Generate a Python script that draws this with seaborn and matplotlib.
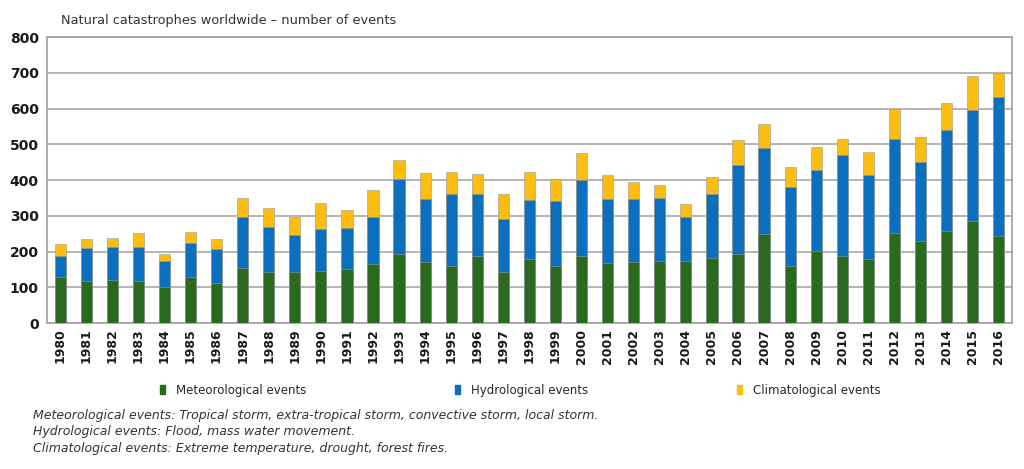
import numpy as np
import pandas as pd
import matplotlib
matplotlib.use("Agg")
import matplotlib.pyplot as plt
import seaborn as sns
from matplotlib.patches import Patch

# -------------------------
# Data
# -------------------------
years = [str(y) for y in range(1980, 2017)]
meteorological = [130, 117, 121, 119, 101, 128, 111, 155, 142, 143,
                  145, 150, 164, 193, 171, 161, 187, 142, 179, 159,
                  189, 167, 170, 175, 173, 182, 194, 250, 161, 201,
                  187, 180, 252, 229, 259, 285, 245]
hydrological = [59, 93, 91, 93, 72, 97, 95, 143, 128, 103,
                118, 115, 134, 209, 176, 201, 175, 149, 166, 183,
                210, 180, 177, 175, 125, 178, 247, 241, 221, 226,
                282, 235, 262, 222, 280, 312, 386]
climatological = [31, 26, 27, 40, 21, 29, 28, 52, 53, 50,
                  72, 50, 73, 53, 74, 61, 56, 69, 78, 62,
                  77, 66, 49, 37, 36, 49, 71, 66, 55, 65,
                  47, 64, 86, 69, 77, 93, 69]

labels = ["Meteorological events", "Hydrological events", "Climatological events"]
colors = ["#2a6a1f", "#0a6fbf", "#fdbd10"]

df = pd.DataFrame({"year": years,
                   "met": meteorological,
                   "hyd": hydrological,
                   "cli": climatological})
df["met_hyd"] = df["met"] + df["hyd"]
df["total"] = df["met_hyd"] + df["cli"]

# -------------------------
# Plot
# -------------------------
sns.set_style("white")
fig = plt.figure(figsize=(10.24, 4.69), dpi=100)
ax = fig.add_axes([0.046, 0.311, 0.942, 0.61])

# stacked bars: draw cumulative totals from the top layer down
bar_kw = dict(width=0.43, edgecolor="#9a9a9a", linewidth=0.4, ax=ax, zorder=3)
sns.barplot(data=df, x="year", y="total", color=colors[2], saturation=1, **bar_kw)
sns.barplot(data=df, x="year", y="met_hyd", color=colors[1], saturation=1, **bar_kw)
sns.barplot(data=df, x="year", y="met", color=colors[0], saturation=1, **bar_kw)

ax.set_ylim(0, 800)
ax.set_xlim(-0.5, len(years) - 0.5)
ax.set_yticks(range(0, 801, 100))
ax.yaxis.grid(True, color="#a8a8a8", linewidth=1.2, zorder=0)
ax.set_axisbelow(True)
ax.set_xlabel("")
ax.set_ylabel("")

for s in ax.spines.values():
    s.set_color("#a0a0a0")
    s.set_linewidth(1.2)

ax.tick_params(axis="y", length=0, labelsize=10, pad=6, labelcolor="#1a1a1a")
ax.tick_params(axis="x", which="major", length=0, labelsize=9, pad=4, labelcolor="#1a1a1a")
ax.set_xticks(np.arange(-0.5, len(years), 1), minor=True)
ax.tick_params(axis="x", which="minor", length=4, color="#a0a0a0")
for t in ax.get_yticklabels():
    t.set_fontweight("bold")
for t in ax.get_xticklabels():
    t.set_fontweight("bold")
    t.set_rotation(90)

fig.text(0.06, 0.956, "Natural catastrophes worldwide \u2013 number of events",
         fontsize=9.3, color="#333333", va="center")

handles = [Patch(color=c) for c in colors]
fig.legend(handles, labels, ncol=3, loc="center", bbox_to_anchor=(0.508, 0.168),
           frameon=False, fontsize=8.5, handlelength=0.45, handleheight=0.8,
           handletextpad=0.9, columnspacing=12.6)

notes = ["Meteorological events: Tropical storm, extra-tropical storm, convective storm, local storm.",
         "Hydrological events: Flood, mass water movement.",
         "Climatological events: Extreme temperature, drought, forest fires."]
for i, n in enumerate(notes):
    fig.text(0.032, 0.115 - i * 0.036, n, fontsize=9, style="italic",
             color="#333333", va="center")

fig.savefig("out.png", dpi=100)
